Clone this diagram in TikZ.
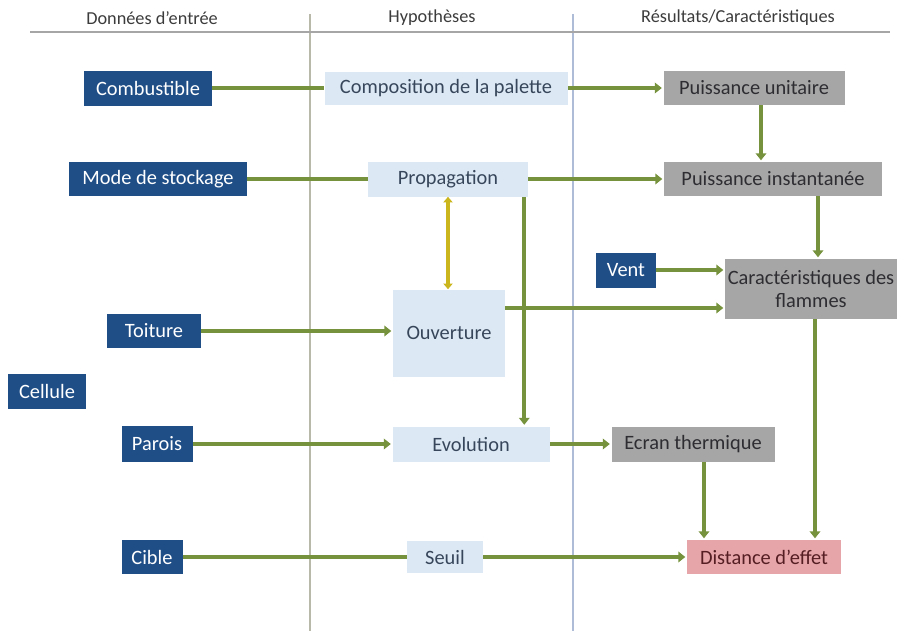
\documentclass[tikz,border=0pt]{standalone}
\usepackage{fontspec}
\setmainfont{Carlito}
\usetikzlibrary{arrows.meta, positioning, calc}

\definecolor{inblue}{RGB}{31,78,135}
\definecolor{hypoblue}{RGB}{220,233,245}
\definecolor{hypotext}{RGB}{55,70,90}
\definecolor{resgrey}{RGB}{166,166,166}
\definecolor{restext}{RGB}{45,45,50}
\definecolor{effetpink}{RGB}{230,165,168}
\definecolor{effettext}{RGB}{85,30,35}
\definecolor{headtext}{RGB}{60,60,60}
\definecolor{arrowgreen}{RGB}{118,146,60}
\definecolor{twowayyellow}{RGB}{204,182,30}
\definecolor{colgrey}{RGB}{185,185,170}
\definecolor{colblue}{RGB}{175,188,215}

\begin{document}
\begin{tikzpicture}[x=0.025cm, y=-0.025cm,
    boxsz/.style 2 args={minimum width=#1*0.025cm, minimum height=#2*0.025cm},
    base/.style={rectangle, inner sep=1pt, align=center, font=\fontsize{14.5}{16}\selectfont},
    donnee/.style={base, fill=inblue, text=white},
    hypo/.style={base, fill=hypoblue, text=hypotext},
    result/.style={base, fill=resgrey, text=restext},
    effet/.style={base, fill=effetpink, text=effettext},
    header/.style={font=\fontsize{13}{15}\selectfont, text=headtext},
    link/.style={line width=2.8pt, draw=arrowgreen},
    arrow/.style={link, -{Triangle[length=5pt,width=7.5pt]}, shorten >=1pt},
    twoway/.style={line width=2.6pt, draw=twowayyellow, {Triangle[length=4pt,width=6.5pt]}-{Triangle[length=4pt,width=6.5pt]}}
]
\useasboundingbox[fill=white] (0,0) rectangle (909,631);

% columns
\node[header] (hdonnees) at (152,18) {Données d'entrée};
\node[header] (hhypo) at (432,18) {Hypothèses};
\node[header] (hres) at (738,18) {Résultats/Caractéristiques};
\draw[colgrey, line width=1pt] (310,14) -- (310,631);
\draw[colblue, line width=1pt] (573,14) -- (573,631);
\draw[gray!70, line width=1.3pt] (30,32) -- (890,32);

% donnees d'entree
\node[donnee, boxsz={128}{35}] (comb) at (148,88) {Combustible};
\node[donnee, boxsz={178}{34}] (mode) at (158,179) {Mode de stockage};
\node[donnee, boxsz={94}{34}] (toit) at (154,331) {Toiture};
\node[donnee, boxsz={78}{35}] (cell) at (47,391) {Cellule};
\node[donnee, boxsz={71}{36}] (parois) at (157,444) {Parois};
\node[donnee, boxsz={61}{34}] (cible) at (152,557) {Cible};
\node[donnee, boxsz={60}{35}] (vent) at (626,270) {Vent};

% hypotheses
\node[hypo, boxsz={243}{33}] (compo) at (446,88) {Composition de la palette};
\node[hypo, boxsz={160}{35}] (prop) at (448,179) {Propagation};
\node[hypo, boxsz={112}{87}] (ouv) at (449,333) {Ouverture};
\node[hypo, boxsz={157}{35}] (evol) at (471,444) {Evolution};
\node[hypo, boxsz={76}{32}] (seuil) at (445,557) {Seuil};

% resultats
\node[result, boxsz={181}{34}] (unit) at (754,88) {Puissance unitaire};
\node[result, boxsz={218}{34}] (inst) at (773,179) {Puissance instantanée};
\node[result, boxsz={172}{60}] (carac) at (811,289) {Caractéristiques des\\flammes};
\node[result, boxsz={163}{35}] (ecran) at (693,444) {Ecran thermique};
\node[effet, boxsz={154}{34}] (dist) at (764,557) {Distance d'effet};

\foreach \from/\to in {comb/compo, mode/prop, cible/seuil}
    \draw[link] (\from) -- (\to);
\foreach \from/\to in {compo/unit, prop/inst, seuil/dist, parois/evol, evol/ecran}
    \draw[arrow] (\from) -- (\to);

\draw[arrow] (toit) -- (toit -| ouv.west);
\draw[arrow] (vent) -- (vent -| carac.west);
\draw[arrow] ($(ouv.east)+(0,-25)$) coordinate (ouvout) -- (ouvout -| carac.west);
\draw[arrow] ($(prop.south east)+(-4,0)$) coordinate (propout) -- (propout |- evol.north);
\draw[twoway] (prop.south) -- (prop.south |- ouv.north);

\draw[arrow] ($(unit.south)+(7,0)$) coordinate (unitout) -- (unitout |- inst.north);
\draw[arrow] ($(inst.south)+(45,0)$) coordinate (instout) -- (instout |- carac.north);
\draw[arrow] ($(carac.south)+(4,0)$) coordinate (caracout) -- (caracout |- dist.north);
\draw[arrow] ($(ecran.south)+(11,0)$) coordinate (ecranout) -- (ecranout |- dist.north);

\end{tikzpicture}
\end{document}
